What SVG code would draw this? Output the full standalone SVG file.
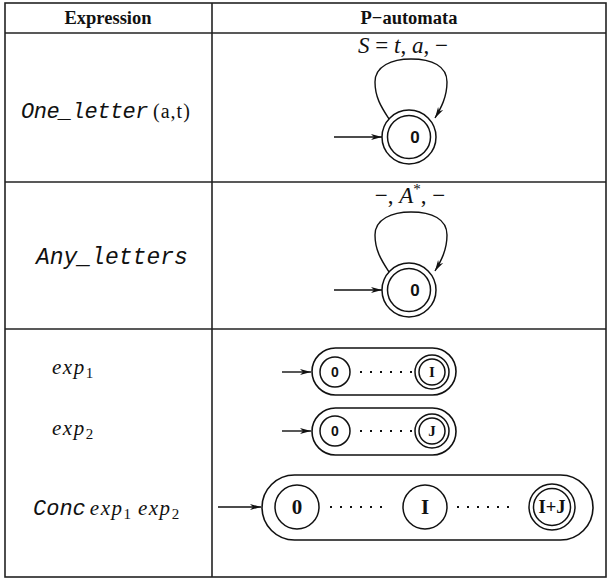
<svg xmlns="http://www.w3.org/2000/svg" width="610" height="580" viewBox="0 0 610 580">
<defs>
<style>
.grid{fill:none;stroke:#222;stroke-width:1.6}
.hdr{font-family:"Liberation Serif",serif;font-weight:bold;font-size:18.5px;text-anchor:middle;fill:#111}
.tt{font-family:"Liberation Mono","DejaVu Sans Mono",monospace;font-style:italic;font-size:22px;letter-spacing:-0.5px;fill:#111}
.rm{font-family:"Liberation Serif",serif;font-size:20px;letter-spacing:1px;fill:#111}
.it{font-family:"Liberation Serif",serif;font-style:italic;font-size:21px;letter-spacing:1.5px;fill:#111}
.sub{font-family:"Liberation Serif",serif;font-style:normal;font-size:15px;letter-spacing:0;fill:#111}
.lbl{font-family:"Liberation Serif",serif;font-size:23px;text-anchor:middle;fill:#111}
.st{fill:#fff;stroke:#111;stroke-width:1.5}
.box{fill:none;stroke:#111;stroke-width:1.6}
.ed{fill:none;stroke:#111;stroke-width:1.4}
.dot{fill:none;stroke:#111;stroke-width:1.8;stroke-dasharray:2 8}
.sn{font-family:"Liberation Sans",sans-serif;font-weight:bold;text-anchor:middle;fill:#111}
.sb{font-family:"Liberation Serif",serif;font-weight:bold;text-anchor:middle;fill:#111}
</style>
<marker id="ah" markerWidth="12" markerHeight="8" refX="11" refY="4" orient="auto" markerUnits="userSpaceOnUse">
<path d="M0,1 L11,4 L0,7 L3,4 Z" fill="#111"/>
</marker>
</defs>
<rect width="610" height="580" fill="#fff"/>
<g id="table">
<rect class="grid" x="5" y="3" width="601" height="574"/>
<line class="grid" x1="212" y1="3" x2="212" y2="577"/>
<line class="grid" x1="5" y1="33" x2="606" y2="33"/>
<line class="grid" x1="5" y1="182" x2="606" y2="182"/>
<line class="grid" x1="5" y1="329" x2="606" y2="329"/>
<text class="hdr" x="108" y="24">Expression</text>
<text class="hdr" x="409" y="24">P−automata</text>
</g>
<g id="expr-texts">
<text x="21" y="118"><tspan class="tt">One_letter</tspan><tspan class="rm" dx="5">(a,t)</tspan></text>
<text class="tt" x="36" y="264" style="font-size:23px;letter-spacing:0">Any_letters</text>
<text class="it" x="52" y="374">exp<tspan class="sub" dy="4">1</tspan></text>
<text class="it" x="52" y="435">exp<tspan class="sub" dy="4">2</tspan></text>
<text x="33" y="515"><tspan class="tt" style="letter-spacing:0">Conc</tspan><tspan class="it" dx="4">exp</tspan><tspan class="sub" dy="4">1</tspan><tspan class="it" dx="7" dy="-4">exp</tspan><tspan class="sub" dy="4">2</tspan></text>
</g>
<g id="connectors">
<path class="ed" d="M389,119 C382,108 375,98 375,82 C375,66 392,59 411,59 C432,59 447,66 447,82 C447,97 441,108 435,118" marker-end="url(#ah)"/>
<line class="ed" x1="334" y1="137" x2="382" y2="137" marker-end="url(#ah)"/>
<path class="ed" d="M389,272 C382,261 375,251 375,235 C375,219 392,212 411,212 C432,212 447,219 447,235 C447,250 441,261 435,271" marker-end="url(#ah)"/>
<line class="ed" x1="334" y1="290" x2="382" y2="290" marker-end="url(#ah)"/>
<line class="ed" x1="282" y1="372" x2="311" y2="372" marker-end="url(#ah)"/>
<line class="dot" x1="360" y1="372" x2="412" y2="372"/>
<line class="ed" x1="282" y1="431" x2="311" y2="431" marker-end="url(#ah)"/>
<line class="dot" x1="360" y1="431" x2="412" y2="431"/>
<line class="ed" x1="218" y1="507" x2="261" y2="507" marker-end="url(#ah)"/>
<line class="dot" x1="330" y1="507" x2="382" y2="507"/>
<line class="dot" x1="457" y1="507" x2="509" y2="507"/>
</g>
<g id="label-one"><text class="lbl" x="403" y="53"><tspan font-style="italic">S</tspan> = <tspan font-style="italic">t</tspan>, <tspan font-style="italic">a</tspan>, −</text></g>
<g id="label-any"><text class="lbl" x="410" y="203">−, <tspan font-style="italic">A</tspan><tspan style="font-size:15px" dy="-9">*</tspan><tspan dy="9">, −</tspan></text></g>
<g id="state-one-0">
<circle class="st" cx="409" cy="137" r="27"/><circle class="st" cx="409" cy="137" r="21.5"/>
<text class="sn" x="415" y="143" style="font-size:17px">0</text>
</g>
<g id="state-any-0">
<circle class="st" cx="409" cy="290" r="27"/><circle class="st" cx="409" cy="290" r="21.5"/>
<text class="sn" x="415" y="296" style="font-size:17px">0</text>
</g>
<g id="exp1">
<rect class="box" x="312" y="348" width="144" height="47" rx="23.5"/>
<circle class="st" cx="335" cy="372" r="15"/><text class="sn" x="335" y="377" style="font-size:14px">0</text>
<circle class="st" cx="432" cy="372" r="17"/><circle class="st" cx="432" cy="372" r="13"/><text class="sb" x="432" y="377" style="font-size:15px">I</text>
</g>
<g id="exp2">
<rect class="box" x="312" y="408" width="144" height="47" rx="23.5"/>
<circle class="st" cx="335" cy="431" r="15"/><text class="sn" x="335" y="436" style="font-size:14px">0</text>
<circle class="st" cx="432" cy="431" r="17"/><circle class="st" cx="432" cy="431" r="13"/><text class="sb" x="432" y="436" style="font-size:15px">J</text>
</g>
<g id="conc">
<rect class="box" x="262" y="475" width="331" height="65" rx="32.5"/>
<circle class="st" cx="297" cy="507" r="22"/><text class="sb" x="297" y="514" style="font-size:21px">0</text>
<circle class="st" cx="425" cy="507" r="22"/><text class="sb" x="425" y="514" style="font-size:21px">I</text>
<circle class="st" cx="552" cy="507" r="23"/><circle class="st" cx="552" cy="507" r="18.5"/><text class="sb" x="552" y="513" style="font-size:18.5px">I+J</text>
</g>
</svg>
